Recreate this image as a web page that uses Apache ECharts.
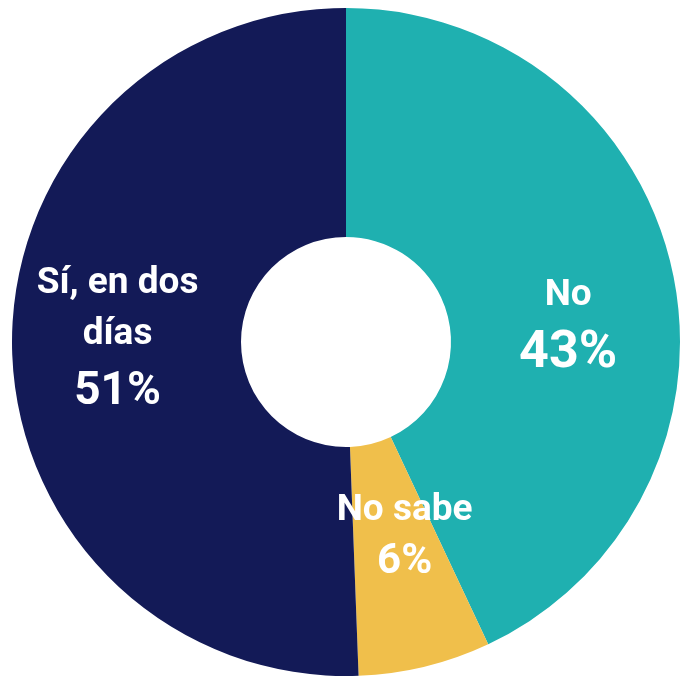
<!DOCTYPE html>
<html>
<head>
<meta charset="utf-8">
<script src="https://cdn.jsdelivr.net/npm/echarts@6/dist/echarts.min.js"></script>
<style>
html, body { margin: 0; padding: 0; background: #fff; }
#chart { width: 680px; height: 676px; }
</style>
</head>
<body>
<div id="chart"></div>
<script>
// datos de la encuesta
var categories = ['No', 'No sabe', 'Sí, en dos\ndías'];
var values = [43, 6.4, 50.6];
var colors = ['#1fb0b0', '#f0bf4b', '#131a57'];

// ajuste de cada etiqueta (padding = desplazamiento, pct = tamaño del porcentaje)
var labelStyles = [
	{ padding: [71, 0, 0, 10], pct: 52, pctLine: 67 },
	{ padding: [0, 0, 43, 12], pct: 42, pctLine: 51 },
	{ padding: [0, 12, 10, 0], pct: 46, pctLine: 63 }
];

function buildData() {
	var data = [];
	for (var i = 0; i < categories.length; i++) {
		var ls = labelStyles[i];
		data.push({
			name: categories[i],
			value: values[i],
			itemStyle: { color: colors[i] },
			label: {
				padding: ls.padding,
				rich: {
					p: { fontSize: ls.pct, lineHeight: ls.pctLine, fontWeight: 'bold', color: '#fff', fontFamily: 'Roboto' }
				}
			}
		});
	}
	return data;
}

var chart = echarts.init(document.getElementById('chart'));

var option = {
	animation: false,
	series: [{
		type: 'pie',
		center: [346, 342],
		radius: [105, 334],
		startAngle: 90,
		clockwise: true,
		data: buildData(),
		itemStyle: { borderWidth: 0 },
		label: {
			show: true,
			position: 'inside',
			color: '#fff',
			fontFamily: 'Roboto',
			fontWeight: 'bold',
			formatter: function(params) {
				var lines = params.name.split('\n');
				var result = '';
				for (var i in lines) {
					result += '{n|' + lines[i] + '}\n';
				}
				return result + '{p|' + Math.round(params.value) + '%}';
			},
			rich: {
				n: { fontSize: 37, lineHeight: 51, fontWeight: 'bold', color: '#fff', fontFamily: 'Roboto' },
				p: { fontSize: 46, lineHeight: 63, fontWeight: 'bold', color: '#fff', fontFamily: 'Roboto' }
			}
		},
		labelLine: { show: false },
		emphasis: { disabled: true }
	}]
};

chart.setOption(option, true);
</script>
</body>
</html>
